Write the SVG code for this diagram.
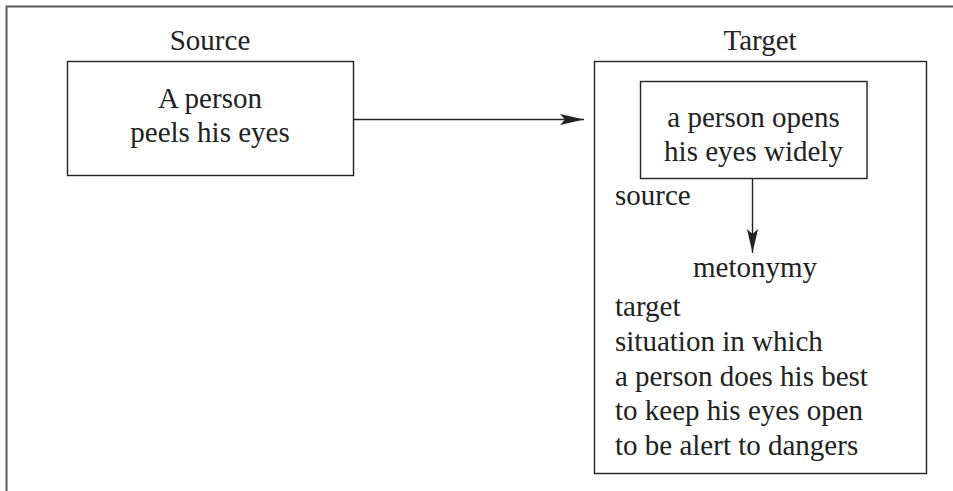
<svg xmlns="http://www.w3.org/2000/svg" width="953" height="491" viewBox="0 0 953 491">
  <style>
    .frame { fill: none; stroke: #5a5a5a; stroke-width: 2; }
    .box { fill: #fff; stroke: #222; stroke-width: 1.4; }
    .lbl { font-family: "Liberation Serif", "Times New Roman", serif; font-size: 29px; fill: #222; }
    .mid { text-anchor: middle; }
    .edge { fill: none; stroke: #222; stroke-width: 1.4; }
  </style>
  <defs>
    <marker id="dart" markerUnits="userSpaceOnUse" viewBox="0 0 24 12" refX="24" refY="6" markerWidth="24" markerHeight="12" orient="auto">
      <path d="M0,0.5 L24,6 L0,11.5 L5,6 Z" fill="#222"/>
    </marker>
  </defs>

  <rect width="953" height="491" fill="#fff"/>

  <!-- page frame: top and left rules only -->
  <path class="frame" d="M6.5,491 L6.5,6.5 L953,6.5"/>

  <!-- source domain -->
  <g id="source">
    <text class="lbl mid" x="210" y="50">Source</text>
    <rect class="box" x="67.5" y="61.5" width="286" height="114"/>
    <text class="lbl mid" x="210" y="108">A person</text>
    <text class="lbl mid" x="210" y="142">peels his eyes</text>
  </g>

  <!-- target domain with the inner metonymy -->
  <g id="target">
    <text class="lbl mid" x="760" y="50">Target</text>
    <rect class="box" x="594.5" y="61.5" width="332" height="412"/>
  </g>

  <g id="metonymy-source">
    <rect class="box" x="640.5" y="81.5" width="226.5" height="97"/>
    <text class="lbl mid" x="753.5" y="127">a person opens</text>
    <text class="lbl mid" x="753.5" y="161">his eyes widely</text>
    <text class="lbl" x="615" y="205">source</text>
  </g>

  <g id="metonymy-label">
    <text class="lbl mid" x="755" y="277">metonymy</text>
  </g>

  <g id="metonymy-target">
    <text class="lbl" x="615" y="316">target</text>
    <text class="lbl" x="615" y="350.5">situation in which</text>
    <text class="lbl" x="615" y="385.5">a person does his best</text>
    <text class="lbl" x="615" y="420">to keep his eyes open</text>
    <text class="lbl" x="615" y="455">to be alert to dangers</text>
  </g>

  <g id="connectors">
    <line class="edge" x1="353.5" y1="119.5" x2="584" y2="119.5" marker-end="url(#dart)"/>
    <line class="edge" x1="752.5" y1="178.5" x2="752.5" y2="253" marker-end="url(#dart)"/>
  </g>
</svg>
